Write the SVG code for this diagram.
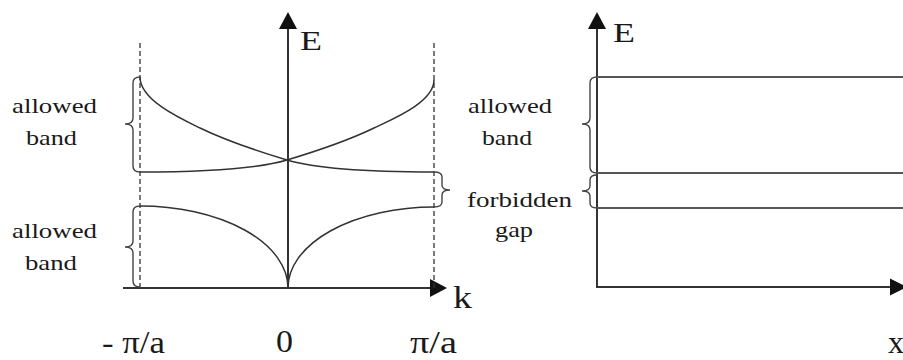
<svg xmlns="http://www.w3.org/2000/svg" width="903" height="360" viewBox="0 0 903 360">
<style>
.ax{stroke:#333;stroke-width:2;fill:none}
.ln{stroke:#555;stroke-width:2.2;fill:none}
.cv{stroke:#333;stroke-width:1.5;fill:none}
.br{stroke:#444;stroke-width:1.4;fill:none}
.ds{stroke:#333;stroke-width:1.3;fill:none;stroke-dasharray:5 3}
.ah{fill:#111}
text{font-family:"Liberation Serif","Times New Roman",serif;fill:#1a1a1a}
.lb{font-size:21px}
.big{font-size:32px}
</style>
<rect width="903" height="360" fill="#fff"/>
<g id="left-plot">
  <g id="left-axes">
    <line class="ax" x1="288" y1="289" x2="288" y2="27"/>
    <polygon class="ah" points="288,12 279,29 297,29"/>
    <line class="ax" x1="123" y1="288" x2="432" y2="288"/>
    <polygon class="ah" points="447,288 430,279 430,297"/>
  </g>
  <g id="zone-boundaries">
    <line class="ds" x1="140" y1="43" x2="140" y2="288"/>
    <line class="ds" x1="434" y1="43" x2="434" y2="288"/>
  </g>
  <g id="upper-band-curves">
    <path class="cv" d="M140,77 C140,100 180,118.4 200,128 C229,142 258,151.3 287,160 C317,169 380,172 434,172"/>
    <path class="cv" d="M434,80 C434,102 394,118.4 374,128 C345,142 316,151.3 287,160 C257,169 194,172 140,172"/>
  </g>
  <g id="lower-band-curves">
    <path class="cv" d="M140,206 A148,82 0 0 1 288,288"/>
    <path class="cv" d="M288,288 A146,81 0 0 1 434,207"/>
  </g>
  <g id="left-braces">
    <path class="br" d="M140,77 Q133,77 133,83 L133,118 Q133,124 125,124 Q133,124 133,130 L133,166 Q133,172 140,172"/>
    <path class="br" d="M140,206 Q133,206 133,212 L133,241 Q133,247 125,247 Q133,247 133,253 L133,281 Q133,287 140,287"/>
    <path class="br" d="M434,172 Q442,172 442,177 L442,185 Q442,190 450,190 Q442,190 442,195 L442,202 Q442,207 434,207"/>
  </g>
  <g id="left-labels">
    <text class="lb" x="12" y="113" textLength="85" lengthAdjust="spacingAndGlyphs">allowed</text>
    <text class="lb" x="26" y="145" textLength="51" lengthAdjust="spacingAndGlyphs">band</text>
    <text class="lb" x="12" y="238" textLength="85" lengthAdjust="spacingAndGlyphs">allowed</text>
    <text class="lb" x="25" y="270" textLength="52" lengthAdjust="spacingAndGlyphs">band</text>
    <text x="300" y="50" font-size="27" textLength="22" lengthAdjust="spacingAndGlyphs">E</text>
    <text class="big" x="453" y="308" textLength="19" lengthAdjust="spacingAndGlyphs">k</text>
    <text class="big" x="102" y="353" textLength="63" lengthAdjust="spacingAndGlyphs">- π/a</text>
    <text class="big" x="276" y="352" textLength="17" lengthAdjust="spacingAndGlyphs">0</text>
    <text class="big" x="410" y="353" textLength="47" lengthAdjust="spacingAndGlyphs">π/a</text>
  </g>
</g>
<g id="middle-labels">
  <text class="lb" x="468" y="113" textLength="84" lengthAdjust="spacingAndGlyphs">allowed</text>
  <text class="lb" x="482" y="145" textLength="50" lengthAdjust="spacingAndGlyphs">band</text>
  <text class="lb" x="467" y="207" textLength="105" lengthAdjust="spacingAndGlyphs">forbidden</text>
  <text class="lb" x="495" y="237" textLength="38" lengthAdjust="spacingAndGlyphs">gap</text>
</g>
<g id="right-plot">
  <g id="right-axes">
    <line class="ax" x1="597" y1="288" x2="597" y2="27"/>
    <polygon class="ah" points="597,12 588,29 606,29"/>
    <line class="ax" x1="596" y1="287" x2="892" y2="287"/>
    <polygon class="ah" points="907,287 890,278.5 890,295.5"/>
  </g>
  <g id="band-edges">
    <line class="ln" x1="597" y1="77" x2="903" y2="77"/>
    <line class="ln" x1="597" y1="173" x2="903" y2="173"/>
    <line class="ln" x1="597" y1="208" x2="903" y2="208"/>
  </g>
  <g id="right-braces">
    <path class="br" d="M597,77 Q590,77 590,83 L590,118 Q590,124 582,124 Q590,124 590,130 L590,167 Q590,173 597,173"/>
    <path class="br" d="M597,175 Q590,175 590,180 L590,186 Q590,191 582,191 Q590,191 590,196 L590,203 Q590,208 597,208"/>
  </g>
  <g id="right-labels">
    <text x="613" y="42" font-size="28" textLength="22" lengthAdjust="spacingAndGlyphs">E</text>
    <text class="big" x="888" y="353">x</text>
  </g>
</g>
</svg>
